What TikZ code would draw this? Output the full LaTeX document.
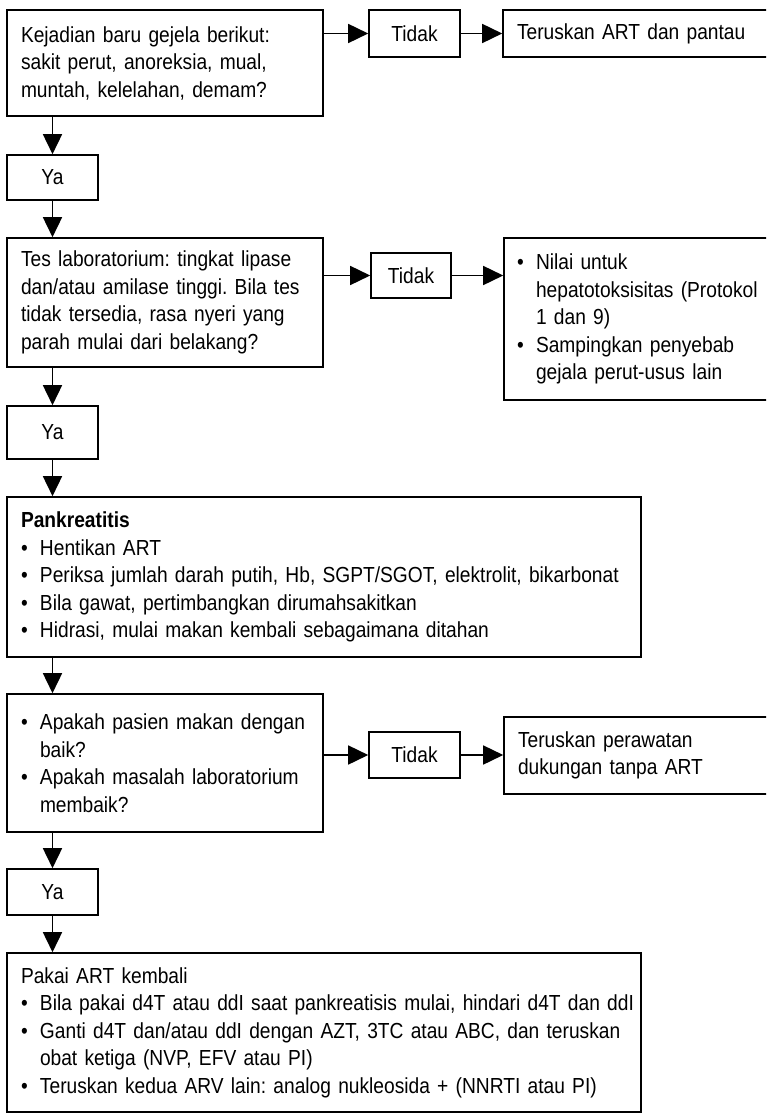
\documentclass[tikz,border=0pt]{standalone}
\usepackage{fontspec}
\setmainfont{Liberation Sans}[FakeStretch=0.88]
\usetikzlibrary{arrows.meta}
\newcommand\myb{\makebox[19pt][l]{\textbullet}}
\newcommand\myi{\hspace*{19pt}}
\frenchspacing
\begin{document}
\begin{tikzpicture}[x=1pt,y=-1pt,
  font=\fontsize{21.8}{27.5}\selectfont,
  box/.style={draw, line width=1.6pt, inner sep=0pt, inner xsep=14pt, align=left, anchor=center},
  small/.style={draw, line width=1.6pt, inner sep=0pt, align=center, anchor=center},
  arr/.style={line width=1.6pt, -{Triangle[length=20pt,width=19pt]}}]
\useasboundingbox (0,0) rectangle (766,1115);
\clip (0,0) rectangle (766,1115);

% row 1
\node[box, minimum width=316pt, text width=288pt, minimum height=106pt] (b1) at (165,63)
  {Kejadian baru gejela berikut:\\ sakit perut, anoreksia, mual,\\ muntah, kelelahan, demam?};
\node[small, minimum width=91pt, minimum height=47pt] (t1) at (414.5,33.5) {Tidak};
\node[box, minimum width=297pt, text width=269pt, minimum height=47pt] (r1) at (651.5,33.5)
  {Teruskan ART dan pantau};
\node[small, minimum width=91pt, minimum height=45pt] (ya1) at (52.5,177.5) {Ya};

% row 2
\node[box, minimum width=316pt, text width=288pt, minimum height=129pt] (b2) at (165,302.5)
  {Tes laboratorium: tingkat lipase\\ dan/atau amilase tinggi. Bila tes\\ tidak tersedia, rasa nyeri yang\\ parah mulai dari belakang?};
\node[small, minimum width=80pt, minimum height=45pt] (t2) at (411,275.5) {Tidak};
\node[box, inner xsep=13pt, minimum width=296pt, text width=270pt, minimum height=162pt] (r2) at (652,319)
  {\myb Nilai untuk\\ \myi hepatotoksisitas (Protokol\\ \myi 1 dan 9)\\ \myb Sampingkan penyebab\\ \myi gejala perut-usus lain};
\node[small, minimum width=91pt, minimum height=53pt] (ya2) at (52.5,432.5) {Ya};

% row 3
\node[box, minimum width=634pt, text width=606pt, minimum height=160pt] (b3) at (324,577)
  {\textbf{Pankreatitis}\\ \myb Hentikan ART\\ \mbox{\myb Periksa jumlah darah putih, Hb, SGPT/SGOT, elektrolit, bikarbonat}\\ \myb Bila gawat, pertimbangkan dirumahsakitkan\\ \myb Hidrasi, mulai makan kembali sebagaimana ditahan};

% row 4
\node[box, minimum width=316pt, text width=288pt, minimum height=138pt] (b4) at (165,763)
  {\myb Apakah pasien makan dengan\\ \myi baik?\\ \myb Apakah masalah laboratorium\\ \myi membaik?};
\node[small, minimum width=91pt, minimum height=46pt] (t3) at (414.5,755) {Tidak};
\node[box, minimum width=296pt, text width=268pt, minimum height=77pt] (r3) at (652,755.5)
  {Teruskan perawatan\\ dukungan tanpa ART};
\node[small, minimum width=91pt, minimum height=46pt] (ya3) at (52.5,892) {Ya};

% row 5
\node[box, minimum width=634pt, text width=606pt, minimum height=159pt] (b5) at (324,1032.5)
  {Pakai ART kembali\\ \mbox{\myb Bila pakai d4T atau ddI saat pankreatisis mulai, hindari d4T dan ddI}\\ \mbox{\myb Ganti d4T dan/atau ddI dengan AZT, 3TC atau ABC, dan teruskan}\\ \myi obat ketiga (NVP, EFV atau PI)\\ \mbox{\myb Teruskan kedua ARV lain: analog nukleosida + (NNRTI atau PI)}};

% connectors
\draw[arr] (b1.east |- t1.west) -- (t1.west);
\draw[arr] (t1.east) -- (r1.west |- t1.east);
\draw[arr] (ya1.north |- b1.south) -- (ya1.north);
\draw[arr] (ya1.south) -- (ya1.south |- b2.north);
\draw[arr] (b2.east |- t2.west) -- (t2.west);
\draw[arr] (t2.east) -- (r2.west |- t2.east);
\draw[arr] (ya2.north |- b2.south) -- (ya2.north);
\draw[arr] (ya2.south) -- (ya2.south |- b3.north);
\draw[arr] (ya2.south |- b3.south) -- (ya2.south |- b4.north);
\draw[arr] (b4.east |- t3.west) -- (t3.west);
\draw[arr] (t3.east) -- (r3.west |- t3.east);
\draw[arr] (ya3.north |- b4.south) -- (ya3.north);
\draw[arr] (ya3.south) -- (ya3.south |- b5.north);
\end{tikzpicture}
\end{document}
